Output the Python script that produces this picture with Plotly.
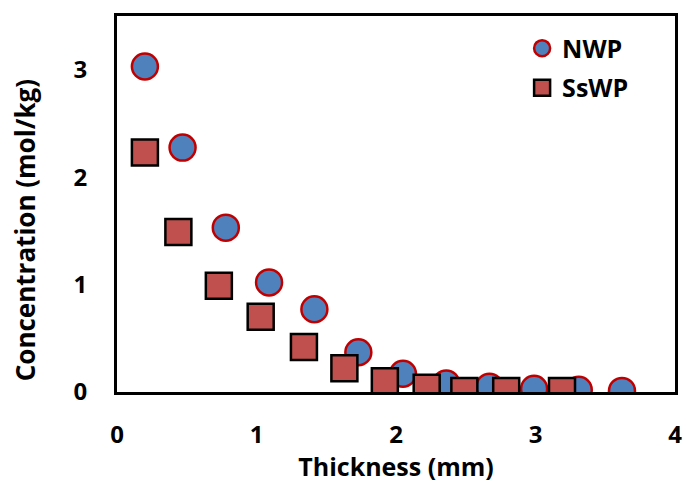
import plotly.graph_objects as go

nwp_x = [0.20, 0.47, 0.78, 1.09, 1.415, 1.73, 2.05, 2.36, 2.67, 2.99, 3.31, 3.62]
nwp_y = [3.03, 2.275, 1.53, 1.02, 0.77, 0.37, 0.17, 0.08, 0.05, 0.03, 0.02, 0.01]
sswp_x = [0.20, 0.44, 0.73, 1.03, 1.34, 1.63, 1.92, 2.22, 2.49, 2.79, 3.19]
sswp_y = [2.23, 1.49, 0.99, 0.70, 0.42, 0.22, 0.10, 0.04, 0.01, 0.01, 0.01]

x_ticks = [0, 1, 2, 3, 4]
y_ticks = [0, 1, 2, 3]

x_title = "Thickness (mm)"
y_title = "Concentration (mol/kg)"

FONT = "Open Sans"

fig = go.Figure()
fig.add_trace(go.Scatter(
    x=nwp_x, y=nwp_y, mode="markers", name="NWP", legendgroup="a",
    marker=dict(symbol="circle", size=26, color="#4F81BD",
                line=dict(color="#C00000", width=2.5)),
))
fig.add_trace(go.Scatter(
    x=sswp_x, y=sswp_y, mode="markers", name="SsWP", legendgroup="b",
    marker=dict(symbol="square", size=26, color="#C0504D",
                line=dict(color="#000000", width=2.5)),
))

axis_common = dict(
    showgrid=False, zeroline=False, showline=True, linecolor="black",
    linewidth=3, mirror=True, ticks="",
    tickfont=dict(family=FONT, size=24, color="black", weight="bold"),
)

fig.update_layout(
    width=691, height=483,
    margin=dict(l=117, r=9, t=16, b=90),
    paper_bgcolor="white", plot_bgcolor="white",
    font=dict(family=FONT, color="black"),
    xaxis=dict(range=[0, 4], tickvals=x_ticks, ticklabelstandoff=19,
               title=dict(text="<b>" + x_title + "</b>", font=dict(family=FONT, size=25), standoff=7),
               **axis_common),
    yaxis=dict(range=[0, 3.5], tickvals=y_ticks, ticklabelstandoff=22,
               **axis_common),
    legend=dict(x=0.726, y=0.975, xanchor="left", yanchor="top",
                bgcolor="rgba(0,0,0,0)", itemsizing="trace",
                traceorder="grouped", tracegroupgap=4,
                font=dict(family=FONT, size=25, color="black", weight="bold")),
    showlegend=True,
    annotations=[dict(
        text="<b>" + y_title + "</b>", textangle=-90,
        xref="paper", yref="paper", x=-0.165, y=0.43,
        xanchor="center", yanchor="middle", showarrow=False,
        font=dict(family=FONT, size=26, color="black"),
    )],
)

fig.write_html("out.html")
